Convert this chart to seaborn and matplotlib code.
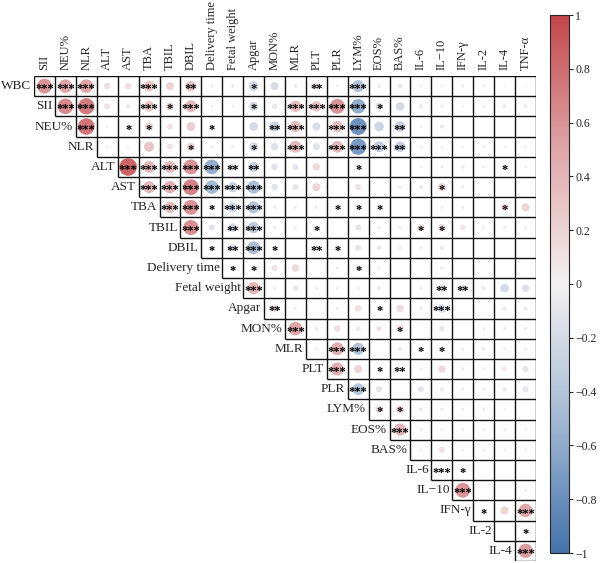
import matplotlib
matplotlib.use("Agg")
import matplotlib.pyplot as plt
import numpy as np
import pandas as pd
import seaborn as sns
from matplotlib.colors import LinearSegmentedColormap, Normalize
from matplotlib.cm import ScalarMappable

# --- données (triangle supérieur, ligne i = variable i vs variables i+1..) ---
variables = ["WBC", "SII", "NEU%", "NLR", "ALT", "AST", "TBA", "TBIL", "DBIL",
             "Delivery time", "Fetal weight", "Apgar", "MON%", "MLR", "PLT", "PLR",
             "LYM%", "EOS%", "BAS%", "IL-6", "IL−10", "IFN-γ", "IL-2", "IL-4", "TNF-α"]

corr_rows = [
    [.60, .50, .50, .12, .12, .30, .18, .30, .03, .04, -.25, -.18, .04, .12, .02, -.40, .04, -.07, .02, .02, .03, .02, .01, .01],
    [.65, .72, .10, .05, .30, .18, .38, .02, .02, -.22, -.08, .35, .30, .60, -.58, -.15, -.20, .05, .03, .02, .03, .04, .04],
    [.75, .02, .05, .18, .10, .22, .06, .00, -.20, -.28, .35, -.18, .35, -.78, -.25, -.30, .02, .05, .00, .00, .00, .00],
    [.02, .02, .28, .10, .18, .03, .03, -.22, -.15, .38, -.14, .38, -.72, -.32, -.30, .02, .02, .02, .02, .02, .02],
    [.85, .38, .38, .60, -.58, -.15, -.28, -.12, -.10, .15, .00, .04, .00, .00, .02, .03, .04, .02, .04, .02],
    [.38, .42, .68, -.50, -.28, -.45, -.12, -.10, .18, .00, .10, .00, .03, .05, .18, .03, .00, .00, .00],
    [.35, .60, .08, -.25, -.40, .03, .03, .03, .05, .06, .04, .00, .00, .03, .03, .00, .15, .18],
    [.62, -.10, -.20, -.35, .03, .03, .05, .00, -.10, .03, .03, .15, .15, .08, .03, .03, .03],
    [-.05, -.15, -.45, .05, .00, .08, .08, -.10, -.06, .03, .03, .06, .00, .00, .00, .00],
    [.05, .05, .10, .15, .00, .03, -.08, .03, .00, .00, .03, .00, .00, .00, .00],
    [.40, .03, -.08, .03, .03, .03, -.04, .00, .03, -.15, -.15, -.05, -.20, -.15],
    [.15, .03, .00, .03, .12, .05, .15, .03, -.20, .00, .00, .05, .05],
    [.50, .04, .12, .06, .08, .15, .00, .08, .00, .03, .03, .03],
    [.03, .45, -.40, .00, .05, .03, .03, .03, .04, .02, .03],
    [.45, .18, .03, .00, .03, .15, .03, .02, .06, -.10],
    [-.38, -.10, .00, -.10, .05, .03, .03, -.05, -.10],
    [.15, .18, .05, .03, .03, .03, .02, .00],
    [.40, .03, .02, .03, .02, .03, .02],
    [.02, .10, .02, .02, .02, .02],
    [.05, .03, .00, .00, .00],
    [.60, .00, .00, .03],
    [.04, .18, .50],
    [.00, .05],
    [.55],
]

star_rows = [
    ["***", "***", "***", "", "", "***", "", "**", "", "", "*", "", "", "**", "", "***", "", "", "", "", "", "", "", ""],
    ["***", "***", "", "", "***", "*", "***", "", "", "*", "", "***", "***", "***", "***", "*", "", "", "", "", "", "", ""],
    ["***", "", "*", "*", "", "", "*", "", "", "**", "***", "", "***", "***", "", "**", "", "", "", "", "", ""],
    ["", "", "", "", "*", "", "", "*", "", "***", "", "***", "***", "***", "**", "", "", "", "", "", ""],
    ["***", "***", "***", "***", "***", "**", "**", "", "", "", "", "*", "", "", "", "", "", "", "*", ""],
    ["***", "***", "***", "***", "***", "***", "", "", "", "", "", "", "", "", "*", "", "", "", ""],
    ["***", "***", "*", "***", "***", "", "", "", "*", "*", "*", "", "", "", "", "", "*", ""],
    ["***", "", "**", "***", "", "", "*", "", "", "", "", "*", "*", "", "", "", ""],
    ["*", "**", "***", "*", "", "**", "*", "", "", "", "", "", "", "", "", ""],
    ["*", "*", "", "", "", "", "*", "", "", "", "", "", "", "", ""],
    ["***", "", "", "", "", "", "", "", "", "**", "**", "", "", ""],
    ["**", "", "", "", "", "*", "", "", "***", "", "", "", ""],
    ["***", "", "", "", "", "*", "", "", "", "", "", ""],
    ["", "***", "***", "", "", "*", "*", "", "", "", ""],
    ["***", "", "*", "**", "", "", "", "", "", ""],
    ["***", "", "", "", "", "", "", "", ""],
    ["*", "*", "", "", "", "", "", ""],
    ["***", "", "", "", "", "", ""],
    ["", "", "", "", "", ""],
    ["***", "*", "", "", ""],
    ["***", "", "", ""],
    ["*", "", "***"],
    ["", "*"],
    ["***"],
]

colorbar_ticks = [1, 0.8, 0.6, 0.4, 0.2, 0, -0.2, -0.4, -0.6, -0.8, -1]

sns.set_style("white")
plt.rcParams["font.family"] = ["Liberation Serif", "DejaVu Serif"]

cmap = LinearSegmentedColormap.from_list(
    "corr", [(0.0, "#4672AB"), (0.25, "#A4B9D4"), (0.5, "#F4F1F1"),
             (0.75, "#E0A6A9"), (1.0, "#C2474B")])

recs = []
for i, (vals, stars) in enumerate(zip(corr_rows, star_rows)):
    for k, (r, s) in enumerate(zip(vals, stars)):
        recs.append({"row": i, "col": i + k, "r": r, "absr": abs(r), "stars": s})
df = pd.DataFrame(recs)

fig = plt.figure(figsize=(6, 5.63), dpi=100)
W, H = 600, 563
ax = fig.add_axes([34 / W, 1 - 561 / H, 502 / W, 485 / H])
n = len(variables) - 1

sns.scatterplot(data=df, x=df["col"] + 0.5, y=df["row"] + 0.5, hue="r",
                palette=cmap, hue_norm=(-1, 1), size="absr", sizes=(0, 190),
                size_norm=(0, 1), linewidth=0, legend=False, ax=ax, zorder=2)

# étoiles de significativité
for _, rec in df[df["stars"] != ""].iterrows():
    ax.text(rec["col"] + 0.5, rec["row"] + 0.8, rec["stars"], ha="center",
            va="baseline", fontsize=9, fontweight="bold", color="black", zorder=3)

# grille en escalier
ks = np.arange(n + 1)
ax.hlines(ks, np.maximum(ks - 1, 0), n, color="#111111", lw=1.0, zorder=1)
ax.vlines(ks, 0, np.minimum(ks + 1, n), color="#111111", lw=1.0, zorder=1)

for i in range(n):
    ax.text(i - 0.12, i + 0.5, variables[i], ha="right", va="center", fontsize=9.5)
for j in range(n):
    ax.text(j + 0.5, -0.3, variables[j + 1], ha="center", va="bottom",
            rotation=90, fontsize=9)

ax.set_xlim(0, n)
ax.set_ylim(n, 0)
ax.axis("off")

# barre de couleur
cax = fig.add_axes([550 / W, 1 - 553 / H, 19 / W, 538 / H])
sm = ScalarMappable(norm=Normalize(-1, 1), cmap=cmap)
cb = fig.colorbar(sm, cax=cax)
cb.set_ticks(colorbar_ticks)
cb.set_ticklabels([f"{t:g}".replace("-", "−") for t in colorbar_ticks])
cb.ax.tick_params(labelsize=8.5, length=3, width=0.8, pad=1.5)
cb.outline.set_linewidth(0.8)

fig.savefig("out.png", dpi=100)
